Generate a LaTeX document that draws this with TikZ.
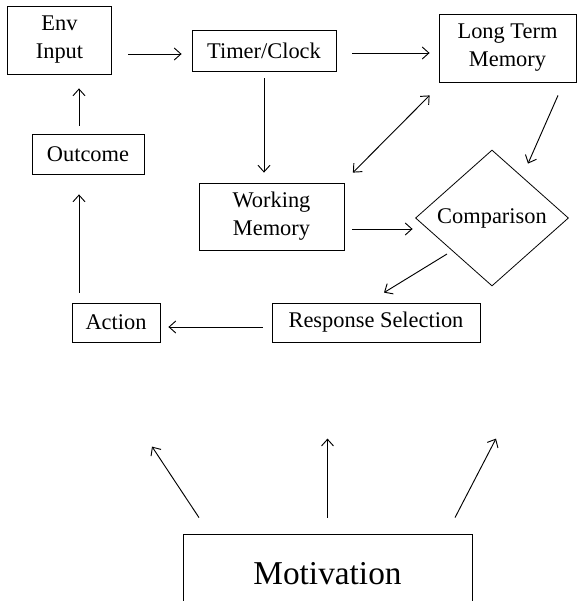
\documentclass[tikz,border=0pt]{standalone}
\usepackage{fontspec}
\setmainfont{Liberation Serif}
\usetikzlibrary{shapes.geometric,calc,arrows.meta}

\begin{document}
\begin{tikzpicture}[x=0.75pt,y=-0.75pt,
    box/.style={draw,line width=0.6pt,inner sep=0pt,align=center,font=\fontsize{16.8}{21}\selectfont},
    arr/.style={line width=0.7pt,-{Straight Barb[length=5pt,width=9pt]}}]
            \useasboundingbox (0,0) rectangle (577,601);
            \clip (0,0) rectangle (577,601);
            \node[box,minimum width=78pt,minimum height=51pt] (env) at (59.5,40) {Env\\Input};
            \node[box,minimum width=108pt,minimum height=30.75pt] (timer) at (264,50.5) {Timer/Clock};
            \node[box,minimum width=102.75pt,minimum height=51pt] (ltm) at (507.5,48) {Long Term\\Memory};
            \node[box,minimum width=84pt,minimum height=30pt] (outcome) at (88,154) {Outcome};
            \node[box,minimum width=108.75pt,minimum height=50.25pt] (wm) at (271.5,216.5) {Working\\Memory};
            \node[box,diamond,aspect=1.125,minimum width=114.75pt,minimum height=102pt] (comp) at (492,218) {Comparison};
            \node[box,minimum width=156pt,minimum height=29.25pt] (resp) at (376,322.5) {Response Selection};
            \node[box,minimum width=66pt,minimum height=29.25pt] (action) at (116,322.5) {Action};
            \node[box,minimum width=216.75pt,minimum height=60pt,font=\fontsize{25}{30}\selectfont] (motiv) at (327.5,574) {Motivation};
            \draw[arr] ($(env.east)+(16.5,14)$) -- ($(timer.west)+(-10,3.5)$);
            \draw[arr] ($(timer.east)+(16,2.5)$) -- ($(ltm.west)+(-9,5)$);
            \draw[arr] ($(timer.south)+(0,7)$) -- ($(wm.north)+(-7.5,-10)$);
            \draw[arr] ($(outcome.north)+(-9,-8)$) -- ($(env.south)+(19.5,14)$);
            \draw[arr] ($(action.north)+(-37,-10)$) -- ($(outcome.south)+(-9,20)$);
            \draw[arr] ($(ltm.south)+(50.5,13)$) -- ($(comp.north)+(36,14)$);
            \draw[arr,{Straight Barb[length=5pt,width=9pt]}-{Straight Barb[length=5pt,width=9pt]}] ($(wm.north east)+(8.5,-10)$) -- ($(ltm.south west)+(-9,13)$);
            \draw[arr] ($(wm.east)+(8,12.5)$) -- ($(comp.west)+(-2.5,11)$);
            \draw[arr] ($(comp.center)+(-45,36)$) -- ($(resp.north)+(8,-10)$);
            \draw[arr] ($(resp.west)+(-9,4.5)$) -- ($(action.east)+(8,4.5)$);
            \draw[arr] ($(motiv.north)+(-128.5,-16)$) -- ($(motiv.north)+(-175.5,-87)$);
            \draw[arr] ($(motiv.north)+(0,-16)$) -- ($(motiv.north)+(0,-95)$);
            \draw[arr] ($(motiv.north)+(127.5,-16)$) -- ($(motiv.north)+(168.5,-95)$);
        \end{tikzpicture}
\end{document}
